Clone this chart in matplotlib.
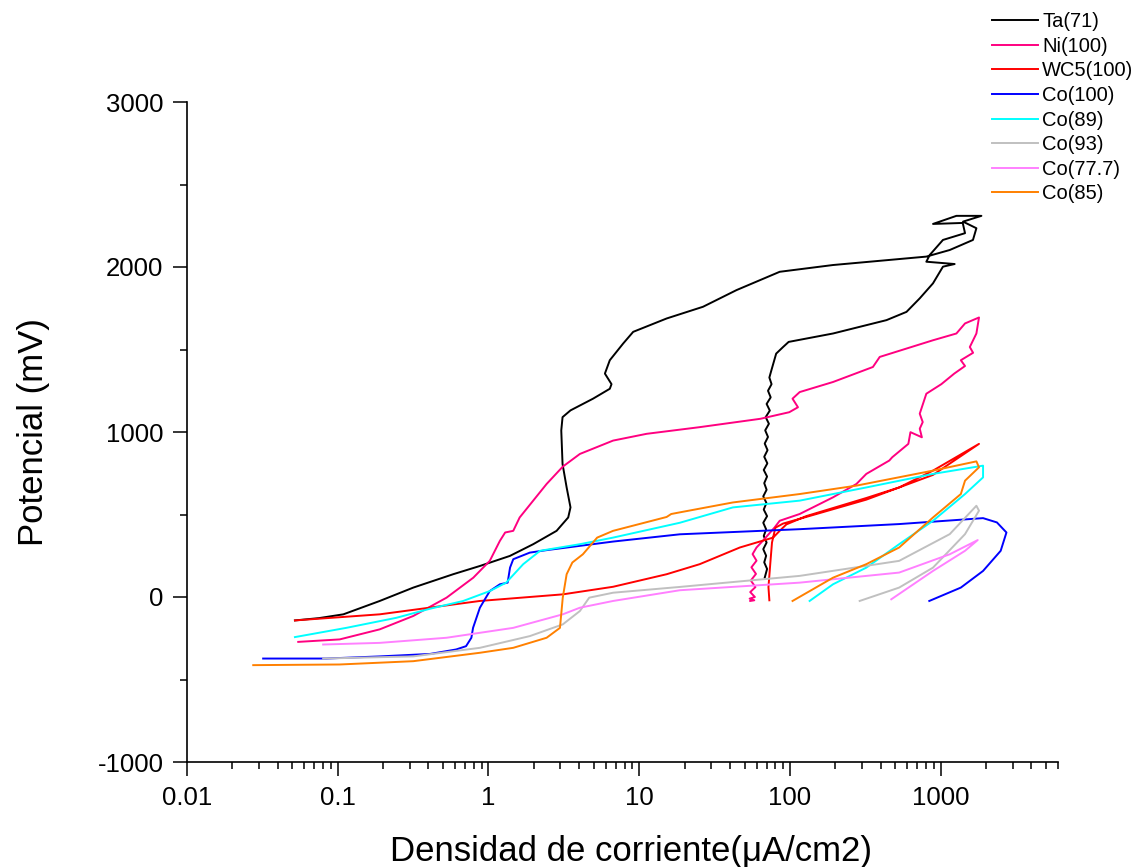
#!/usr/bin/env python3

import numpy as np
import matplotlib
matplotlib.use("Agg")
import matplotlib.pyplot as plt
from matplotlib.ticker import LogLocator, FixedLocator, FixedFormatter, MultipleLocator


# polarisation curves, current density (uA/cm2) vs potential (mV)
labels = ["Ta(71)", "Ni(100)", "WC5(100)", "Co(100)", "Co(89)", "Co(93)", "Co(77.7)", "Co(85)"]
colors = ["#000000", "#ff0080", "#ff0000", "#0000ff", "#00ffff", "#c0c0c0", "#ff80ff", "#ff8000"]

ta_x = [0.052, 0.075, 0.109, 0.19, 0.317, 0.583, 0.877, 1.387, 1.98, 2.83, 3.38, 3.5, 3.3,
        3.1, 3.04, 3.1, 3.5, 4.94, 6.38, 6.55, 5.92, 6.38, 7.82, 9.12, 15.2, 26.5, 44.2,
        85.5, 193, 803, 1148, 1637, 1725, 1406, 1863, 1271, 889, 1400, 1450, 1035, 846,
        803, 1238, 1035, 889, 726, 593, 437, 193, 98, 90, 81, 75.3,
        73.0, 75.5, 71.5, 74.5, 70.0, 73.5, 69.0, 72.5, 68.5, 71.5, 68.0, 71.0, 67.5,
        70.8, 67.0, 70.5, 67.5, 70.0, 66.5, 69.8, 67.0, 70.5, 66.5, 69.5, 67.0, 70.0,
        66.5, 69.5, 67.5, 70.5, 68.0]
ta_y = [-142, -128, -105, -24, 57, 138, 188, 249, 320, 401, 482, 543, 664,
        806, 1009, 1090, 1131, 1202, 1262, 1290, 1354, 1435, 1536, 1607, 1688, 1759, 1860,
        1971, 2012, 2063, 2103, 2164, 2235, 2275, 2310, 2310, 2261, 2267, 2205, 2164, 2073,
        2032, 2018, 2002, 1901, 1810, 1728, 1678, 1597, 1546, 1515, 1475, 1374,
        1330, 1290, 1250, 1210, 1170, 1130, 1090, 1050, 1010, 970, 930, 890, 850,
        810, 770, 730, 690, 650, 610, 570, 530, 490, 450, 410, 370, 330,
        290, 250, 210, 170, 117]

ni_x = [0.0547, 0.103, 0.19, 0.317, 0.527, 0.793, 1.02, 1.19, 1.29, 1.46, 1.61, 1.98, 2.43,
        3.11, 4.04, 6.71, 11.2, 25, 63.6, 99, 113, 104, 116, 193, 355, 394, 889, 1271,
        1450, 1795, 1725, 1560, 1640, 1360, 1450, 1230, 1010, 803, 726, 760, 726, 750,
        630, 610, 477, 456, 321, 276, 193, 116, 85.5, 79, 66, 60,
        56.5, 60.0, 55.5, 59.5, 55.0, 59.0, 54.5, 58.5, 54.0, 58.0, 54.5]
ni_y = [-272, -257, -196, -115, -4, 117, 219, 340, 391, 401, 482, 584, 685,
        790, 867, 948, 989, 1029, 1080, 1120, 1150, 1202, 1242, 1303, 1394, 1455, 1556, 1597,
        1658, 1694, 1597, 1515, 1480, 1435, 1400, 1354, 1290, 1232, 1111, 1060, 1020, 968,
        999, 928, 847, 827, 746, 685, 604, 503, 462, 421, 340, 300,
        260, 220, 180, 140, 100, 60, 30, 0, -10, -20, -24]

wc_x = [0.052, 0.19, 0.877, 3.11, 6.71, 15.2, 25.2, 46.5, 77.3, 85.5, 94.7, 128, 321, 530,
        889, 1795, 889, 321, 128, 90, 80, 76, 74, 72, 73]
wc_y = [-142, -105, -24, 16, 62, 138, 199, 300, 360, 401, 440, 490, 600, 664,
        766, 928, 740, 590, 485, 445, 420, 330, 200, 60, -20]

co100_x = [0.032, 0.084, 0.19, 0.41, 0.61, 0.71, 0.77, 0.79, 0.877, 1.02, 1.19, 1.34, 1.39,
           1.46, 1.88, 2.43, 6.71, 18.6, 116, 530, 1910, 2360, 2730, 2500, 1910, 1360, 840]
co100_y = [-373, -373, -360, -345, -318, -298, -247, -187, -65, 36, 77, 87, 178,
           229, 269, 284, 336, 380, 411, 442, 478, 452, 391, 280, 158, 57, -24]

co89_x = [0.052, 0.114, 0.245, 0.41, 0.68, 1.02, 1.31, 1.7, 2.2, 4.04, 6.71, 18.6, 41.8,
          116, 321, 889, 1910, 1910, 1450, 889, 530, 321, 193, 135]
co89_y = [-243, -187, -126, -71, -24, 36, 87, 199, 280, 320, 360, 450, 543,
          584, 664, 746, 796, 725, 624, 462, 320, 178, 77, -24]

co93_x = [0.08, 0.317, 0.877, 1.88, 3.11, 4.04, 4.66, 6.71, 18.6, 116, 530, 1148, 1725,
          1795, 1450, 889, 530, 290]
co93_y = [-373, -360, -308, -237, -166, -85, -4, 26, 61, 128, 219, 381, 553,
          523, 381, 178, 57, -24]

co777_x = [0.08, 0.19, 0.527, 1.46, 3.11, 4.04, 6.71, 18.6, 116, 530, 1148, 1760, 1450,
           889, 470]
co777_y = [-288, -278, -247, -187, -105, -65, -24, 41, 87, 148, 259, 345, 280,
           158, -14]

co85_x = [0.0275, 0.103, 0.317, 0.877, 1.46, 2.43, 2.98, 3.11, 3.3, 3.6, 4.23, 5.26, 6.71,
          15.2, 16.3, 18.6, 41.8, 116, 276, 889, 1725, 1795, 1450, 1360, 889, 530, 321,
          193, 104]
co85_y = [-413, -409, -389, -338, -308, -247, -187, -4, 138, 209, 259, 360, 401,
          485, 503, 513, 573, 624, 675, 766, 822, 786, 705, 624, 482, 300, 199,
          117, -24]

xs = [ta_x, ni_x, wc_x, co100_x, co89_x, co93_x, co777_x, co85_x]
ys = [ta_y, ni_y, wc_y, co100_y, co89_y, co93_y, co777_y, co85_y]


def main():
    plt.rcParams['font.family'] = ['Liberation Sans', 'DejaVu Sans']
    plt.rcParams['axes.unicode_minus'] = False

    fig = plt.figure(figsize=(11.42, 8.67), dpi=100)
    ax = fig.add_axes([187 / 1142, 1 - 762 / 867, (1058 - 187) / 1142, (762 - 102) / 867])

    for x, y, c, lab in zip(xs, ys, colors, labels):
        ax.plot(x, y, color=c, lw=1.4, label=lab)

    ax.set_xscale('log')
    ax.set_xlim(0.01, 6000)
    ax.set_ylim(-1000, 3000)

    ax.xaxis.set_major_locator(FixedLocator([0.01, 0.1, 1, 10, 100, 1000]))
    ax.xaxis.set_major_formatter(FixedFormatter(["0.01", "0.1", "1", "10", "100", "1000"]))
    ax.xaxis.set_minor_locator(LogLocator(base=10, subs=np.arange(2, 10), numticks=20))
    ax.yaxis.set_major_locator(MultipleLocator(1000))
    ax.yaxis.set_minor_locator(MultipleLocator(500))

    for s in ['top', 'right']:
        ax.spines[s].set_visible(False)
    for s in ['left', 'bottom']:
        ax.spines[s].set_linewidth(1.2)

    ax.tick_params(axis='both', which='major', direction='out', length=10, width=1.1,
                   labelsize=18.5, pad=7)
    ax.tick_params(axis='both', which='minor', direction='out', length=5, width=1.1)

    ax.set_xlabel("Densidad de corriente(μA/cm2)", fontsize=25)
    ax.xaxis.set_label_coords(0.51, -0.11)
    ax.set_ylabel("Potencial (mV)", fontsize=25, labelpad=34)

    fig.legend(loc='upper left', bbox_to_anchor=(992 / 1142, 1 - 12 / 867), frameon=False,
               fontsize=14.5, borderpad=0, borderaxespad=0, handlelength=2.3,
               handletextpad=0.2, labelspacing=0.28)

    fig.savefig("out.png", dpi=100)


if __name__ == '__main__':
    main()
